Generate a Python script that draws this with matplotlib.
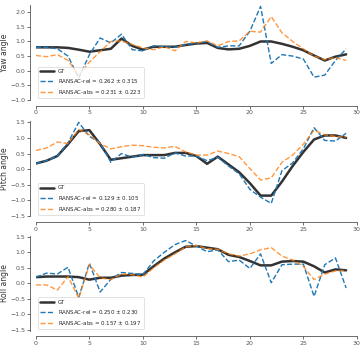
import numpy as np
import matplotlib
matplotlib.use('Agg')
import matplotlib.pyplot as plt
import seaborn as sns

frames = np.arange(30)

yaw_gt = [0.80, 0.80, 0.80, 0.78, 0.72, 0.65, 0.70, 0.75, 1.10, 0.85,
          0.72, 0.82, 0.82, 0.82, 0.88, 0.93, 0.95, 0.78, 0.73, 0.75,
          0.85, 1.00, 1.00, 0.92, 0.82, 0.70, 0.52, 0.35, 0.48, 0.56]
yaw_rel = [0.80, 0.80, 0.75, 0.50, -0.25, 0.55, 1.12, 0.95, 1.25, 0.72,
           0.68, 0.85, 0.82, 0.80, 0.90, 0.95, 1.00, 0.80, 0.85, 0.85,
           1.35, 2.20, 0.25, 0.55, 0.50, 0.40, -0.22, -0.15, 0.35, 0.75]
yaw_abs = [0.52, 0.48, 0.55, 0.35, -0.15, 0.30, 0.65, 1.00, 1.02, 0.90,
           0.78, 0.72, 0.82, 0.68, 1.00, 0.95, 1.02, 0.85, 1.00, 1.02,
           1.35, 1.32, 1.85, 1.30, 1.00, 0.75, 0.50, 0.38, 0.45, 0.35]

pitch_gt = [0.18, 0.27, 0.42, 0.80, 1.22, 1.25, 0.80, 0.30, 0.35, 0.40,
            0.45, 0.45, 0.45, 0.52, 0.52, 0.42, 0.17, 0.40, 0.15, -0.10,
            -0.45, -0.85, -0.85, -0.40, 0.10, 0.55, 0.95, 1.08, 1.08, 1.00]
pitch_rel = [0.18, 0.27, 0.42, 0.85, 1.50, 1.05, 0.85, 0.22, 0.50, 0.38,
             0.47, 0.37, 0.35, 0.52, 0.42, 0.42, 0.27, 0.38, 0.10, -0.15,
             -0.65, -0.90, -1.10, -0.05, 0.20, 0.65, 1.33, 0.92, 0.90, 1.15]
pitch_abs = [0.60, 0.68, 0.87, 0.82, 1.27, 1.10, 0.82, 0.65, 0.72, 0.77,
             0.75, 0.70, 0.68, 0.73, 0.55, 0.45, 0.45, 0.58, 0.50, 0.40,
             0.02, -0.35, -0.28, 0.22, 0.45, 0.80, 1.25, 1.10, 1.05, 1.02]

roll_gt = [0.20, 0.22, 0.22, 0.22, 0.20, 0.12, 0.18, 0.18, 0.25, 0.27,
           0.28, 0.55, 0.80, 1.00, 1.18, 1.20, 1.15, 1.10, 0.92, 0.85,
           0.72, 0.58, 0.58, 0.70, 0.72, 0.70, 0.55, 0.35, 0.45, 0.42]
roll_rel = [0.20, 0.33, 0.30, 0.52, -0.45, 0.65, -0.28, 0.13, 0.35, 0.32,
            0.28, 0.72, 1.00, 1.25, 1.38, 1.20, 1.02, 1.08, 0.70, 0.75,
            0.48, 0.95, 0.02, 0.60, 0.62, 0.62, -0.42, 0.60, 0.82, -0.15]
roll_abs = [-0.05, -0.05, -0.22, 0.22, -0.48, 0.60, 0.18, 0.12, 0.30, 0.28,
            0.20, 0.50, 0.75, 0.95, 1.18, 1.22, 1.12, 1.10, 0.95, 0.88,
            0.95, 1.08, 1.15, 0.88, 0.75, 0.55, 0.12, 0.30, 0.40, 0.42]

names = ['Yaw angle', 'Pitch angle', 'Roll angle']
rel_stats = ['0.262 $\\pm$ 0.315', '0.129 $\\pm$ 0.105', '0.250 $\\pm$ 0.230']
abs_stats = ['0.231 $\\pm$ 0.223', '0.280 $\\pm$ 0.187', '0.157 $\\pm$ 0.197']
ylims = [(-1.0, 2.25), (-1.52, 1.53), (-1.52, 1.52)]

sns.set_style('ticks')
fig = plt.figure(figsize=(3.63, 3.52), dpi=100)
boxes = [[0.099, 0.716, 0.884, 0.270],
         [0.099, 0.385, 0.884, 0.270],
         [0.099, 0.061, 0.884, 0.268]]

series = [(yaw_gt, yaw_rel, yaw_abs),
          (pitch_gt, pitch_rel, pitch_abs),
          (roll_gt, roll_rel, roll_abs)]

for i, (gt, rel, ab) in enumerate(series):
    ax = fig.add_axes(boxes[i])
    ax.plot(frames, gt, color='#333333', lw=1.8, label='GT')
    ax.plot(frames, rel, color='#1f77b4', lw=1.0, ls='--',
            label='RANSAC-rel = ' + rel_stats[i])
    ax.plot(frames, ab, color='#ff7f0e', lw=1.0, ls='--', alpha=0.8,
            label='RANSAC-abs = ' + abs_stats[i])
    ax.set_xlim(0, 30)
    ax.set_ylim(*ylims[i])
    ax.set_xticks(range(0, 31, 5))
    lo = -1.0 if i == 0 else -1.5
    hi = 2.0 if i == 0 else 1.5
    ax.set_yticks(np.arange(lo, hi + 0.01, 0.5))
    ax.set_ylabel(names[i], fontsize=5.5, color='#333333', labelpad=1)
    ax.tick_params(labelsize=4.5, length=2, width=0.6, pad=1.5,
                   colors='#555555')
    for s in ax.spines.values():
        s.set_linewidth(0.6)
        s.set_color('#555555')
    sns.despine(ax=ax, offset=4)
    leg = ax.legend(loc='lower left', fontsize=4.0, handlelength=2.5,
                    borderaxespad=0.3, frameon=True, labelspacing=0.55)
    leg.get_frame().set_linewidth(0.5)

fig.savefig('out.png', dpi=100)
